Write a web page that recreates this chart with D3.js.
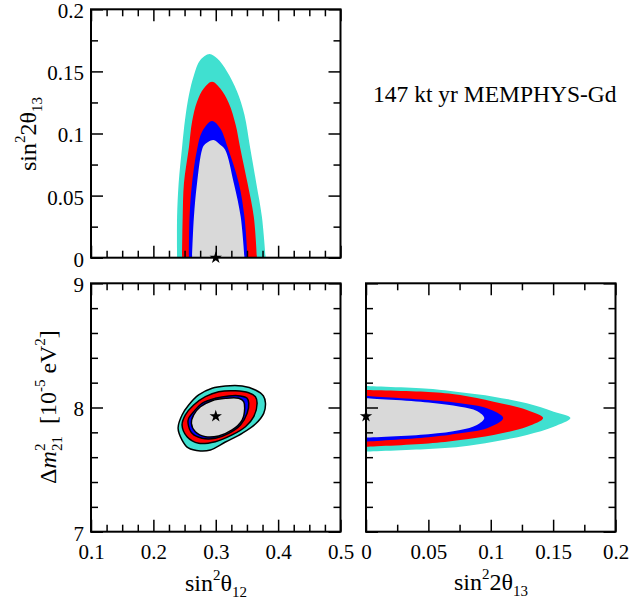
<!DOCTYPE html>
<html>
<head>
<meta charset="utf-8">
<script src="https://cdn.jsdelivr.net/npm/d3@7"></script>
<style>
body { margin: 0; background: #fff; }
text { font-family: "Liberation Serif", "Times New Roman", serif; fill: #000; }
.tick line { stroke: #000; stroke-width: 1.5; }
.domain { display: none; }
</style>
</head>
<body>
<div id="chart"></div>
<script>
'use strict';

// tick labels
var s12Ticks = [0.1, 0.2, 0.3, 0.4, 0.5];
var s13Ticks = [0, 0.05, 0.1, 0.15, 0.2];
var dmTicks = [7, 8, 9];

var levelColors = ["#40e0d0", "#ff0000", "#0000ff", "#d9d9d9"];
var bestS12 = 0.3, bestS13 = 0, bestDm = 7.93;
var title = "147 kt yr MEMPHYS-Gd";

// sin^2 th12 vs sin^2 2th13 (closed along s13 = 0)
var tlTurq = [[0.238,0],[0.238,0.033],[0.2405,0.060],[0.246,0.089],[0.251,0.112],[0.257,0.131],[0.265,0.147],[0.275,0.159],[0.290,0.164],[0.302,0.1605],[0.318,0.150],[0.334,0.134],[0.346,0.115],[0.355,0.089],[0.365,0.060],[0.374,0.033],[0.380,0]];
var tlRed  = [[0.246,0],[0.247,0.033],[0.249,0.060],[0.257,0.089],[0.262,0.1095],[0.270,0.1256],[0.281,0.1364],[0.294,0.1417],[0.307,0.1364],[0.321,0.1243],[0.332,0.1068],[0.339,0.089],[0.351,0.060],[0.361,0.033],[0.366,0]];
var tlBlue = [[0.257,0],[0.258,0.033],[0.262,0.060],[0.270,0.087],[0.278,0.1014],[0.294,0.110],[0.307,0.1042],[0.319,0.089],[0.337,0.060],[0.346,0.033],[0.351,0]];
var tlGray = [[0.262,0],[0.265,0.033],[0.270,0.060],[0.278,0.087],[0.282,0.0910],[0.296,0.0948],[0.307,0.0910],[0.315,0.087],[0.329,0.060],[0.340,0.033],[0.346,0]];

// sin^2 th12 vs dm21 (closed curves)
var blTurq = [[0.2396,7.835],[0.246,7.738],[0.256,7.674],[0.2754,7.650],[0.2914,7.658],[0.3155,7.722],[0.3423,7.792],[0.3636,7.867],[0.3769,7.953],[0.3797,8.036],[0.3764,8.093],[0.3636,8.141],[0.3423,8.173],[0.3155,8.173],[0.2941,8.155],[0.2726,8.101],[0.2566,8.020],[0.246,7.940]];
var blRed  = [[0.246,7.859],[0.254,7.765],[0.2726,7.712],[0.2994,7.725],[0.3262,7.779],[0.3476,7.845],[0.3609,7.926],[0.3663,8.034],[0.3636,8.087],[0.3528,8.119],[0.3315,8.135],[0.3047,8.127],[0.2834,8.087],[0.2646,8.020],[0.2513,7.940]];
var blBlue = [[0.2556,7.873],[0.262,7.792],[0.278,7.752],[0.2994,7.752],[0.3208,7.792],[0.3396,7.859],[0.3503,7.953],[0.3529,8.034],[0.3503,8.074],[0.3396,8.093],[0.3208,8.093],[0.2994,8.074],[0.278,8.034],[0.2646,7.966],[0.2566,7.913]];
var blGray = [[0.2609,7.873],[0.2673,7.805],[0.2834,7.765],[0.3047,7.771],[0.3262,7.819],[0.3423,7.899],[0.3464,7.994],[0.3448,8.047],[0.3368,8.074],[0.3155,8.074],[0.2941,8.055],[0.2754,8.006],[0.2646,7.940]];

// sin^2 2th13 vs dm21 (closed along s13 = 0)
var brTurq = [[0,8.173],[0.05,8.150],[0.0755,8.122],[0.1023,8.087],[0.129,8.034],[0.1505,7.966],[0.1639,7.915],[0.1505,7.845],[0.129,7.779],[0.1023,7.725],[0.0755,7.684],[0.05,7.665],[0,7.644]];
var brRed  = [[0,8.141],[0.05,8.125],[0.0755,8.101],[0.1023,8.047],[0.129,7.980],[0.142,7.915],[0.129,7.845],[0.1023,7.779],[0.0755,7.738],[0.05,7.710],[0,7.684]];
var brBlue = [[0,8.093],[0.05,8.060],[0.0755,8.034],[0.097,7.994],[0.110,7.915],[0.097,7.833],[0.0755,7.792],[0.05,7.760],[0,7.725]];
var brGray = [[0,8.074],[0.05,8.040],[0.0755,8.006],[0.0889,7.972],[0.0948,7.915],[0.0889,7.859],[0.0755,7.819],[0.05,7.785],[0,7.758]];

var width = 630, height = 603;
var pw = 249.5, ph = 248.4;
var fontTick = 21, fontLab = 24, fontSmall = 15;

var svg = d3.select("#chart").append("svg")
    .attr("width", width)
    .attr("height", height);

var fmt = function(d){ return d === 0 ? "0" : d3.format("~g")(d); };

function minorsOf(ticks, n) {
    var out = [];
    for (var i = 0; i < ticks.length - 1; i++) {
        var step = (ticks[i+1] - ticks[i]) / n;
        for (var k = 1; k < n; k++) out.push(ticks[i] + k * step);
    }
    return out;
}

function panel(id, left, top, xScale, yScale, xTicks, yTicks, xMinN, yMinN, showX, showY) {
    var g = svg.append("g")
        .attr("class", "panel " + id)
        .attr("transform", "translate(" + left + "," + top + ")");

    g.append("clipPath").attr("id", "clip-" + id)
        .append("rect").attr("width", pw).attr("height", ph);

    var plot = g.append("g").attr("clip-path", "url(#clip-" + id + ")");

    // bottom / top ticks, all pointing inwards
    g.append("g").attr("transform", "translate(0," + ph + ")")
        .call(d3.axisBottom(xScale).tickValues(xTicks).tickSize(-12).tickPadding(12).tickFormat(showX ? fmt : ""))
        .attr("font-size", fontTick);
    g.append("g").attr("transform", "translate(0," + ph + ")")
        .call(d3.axisBottom(xScale).tickValues(minorsOf(xTicks, xMinN)).tickSize(-7).tickFormat(""));
    g.append("g")
        .call(d3.axisTop(xScale).tickValues(xTicks).tickSize(-12).tickFormat(""));
    g.append("g")
        .call(d3.axisTop(xScale).tickValues(minorsOf(xTicks, xMinN)).tickSize(-7).tickFormat(""));

    // left / right ticks
    g.append("g")
        .call(d3.axisLeft(yScale).tickValues(yTicks).tickSize(-12).tickPadding(7).tickFormat(showY ? fmt : ""))
        .attr("font-size", fontTick)
        .selectAll("text").attr("dy", "0.4em");
    g.append("g")
        .call(d3.axisLeft(yScale).tickValues(minorsOf(yTicks, yMinN)).tickSize(-7).tickFormat(""));
    g.append("g").attr("transform", "translate(" + pw + ",0)")
        .call(d3.axisRight(yScale).tickValues(yTicks).tickSize(-12).tickFormat(""));
    g.append("g").attr("transform", "translate(" + pw + ",0)")
        .call(d3.axisRight(yScale).tickValues(minorsOf(yTicks, yMinN)).tickSize(-7).tickFormat(""));

    g.append("rect")
        .attr("width", pw).attr("height", ph)
        .attr("fill", "none").attr("stroke", "#000").attr("stroke-width", 2);

    return { g: g, plot: plot };
}

function drawBands(plot, xScale, yScale, sets, closed) {
    var line = d3.line()
        .x(function(d){ return xScale(d[0]); })
        .y(function(d){ return yScale(d[1]); })
        .curve(closed ? d3.curveCatmullRomClosed : d3.curveCatmullRom);
    sets.forEach(function(pts, i) {
        var p = plot.append("path")
            .attr("d", closed ? line(pts) : line(pts) + "Z")
            .attr("fill", levelColors[i]);
        if (closed) p.attr("stroke", "#000").attr("stroke-width", 1.5);
        else p.attr("stroke", "none");
    });
}

function star(g, x, y) {
    g.append("path")
        .attr("d", d3.symbol().type(d3.symbolStar).size(48)())
        .attr("transform", "translate(" + x + "," + y + ")")
        .attr("fill", "#000");
}

// scales
var xS12 = d3.scaleLinear().domain([0.1, 0.5]).range([0, pw]);
var yS13 = d3.scaleLinear().domain([0, 0.2]).range([ph, 0]);
var yDm = d3.scaleLinear().domain([7, 9]).range([ph, 0]);
var xS13 = d3.scaleLinear().domain([0, 0.2]).range([0, pw]);

// top left
var tl = panel("tl", 91, 9.3, xS12, yS13, s12Ticks, s13Ticks, 4, 2, false, true);
drawBands(tl.plot, xS12, yS13, [tlTurq, tlRed, tlBlue, tlGray], false);
star(tl.g, xS12(bestS12), yS13(bestS13));

// bottom left
var bl = panel("bl", 91, 283.3, xS12, yDm, s12Ticks, dmTicks, 4, 5, true, true);
drawBands(bl.plot, xS12, yDm, [blTurq, blRed, blBlue, blGray], true);
star(bl.g, xS12(bestS12), yDm(bestDm));

// bottom right
var br = panel("br", 366, 283.3, xS13, yDm, s13Ticks, dmTicks, 2, 5, true, false);
drawBands(br.plot, xS13, yDm, [brTurq, brRed, brBlue, brGray], false);
star(br.g, xS13(bestS13), yDm(bestDm));

// axis titles
function sinLabel(t, twoTheta, sub) {
    t.append("tspan").text("sin");
    t.append("tspan").attr("font-size", fontSmall).attr("dy", -11).text("2");
    t.append("tspan").attr("dy", 11).text(twoTheta ? "2\u03b8" : "\u03b8");
    t.append("tspan").attr("font-size", fontSmall).attr("dy", 6).text(sub);
}

var t1 = svg.append("text")
    .attr("transform", "translate(36,134) rotate(-90)")
    .attr("text-anchor", "middle")
    .attr("font-size", fontLab);
sinLabel(t1, true, "13");

var t2 = svg.append("text")
    .attr("x", 216).attr("y", 591)
    .attr("text-anchor", "middle")
    .attr("font-size", fontLab);
sinLabel(t2, false, "12");

var t3 = svg.append("text")
    .attr("x", 491).attr("y", 590)
    .attr("text-anchor", "middle")
    .attr("font-size", fontLab);
sinLabel(t3, true, "13");

var t4 = svg.append("text")
    .attr("transform", "translate(56,407) rotate(-90)")
    .attr("text-anchor", "middle")
    .attr("font-size", fontLab);
t4.append("tspan").text("\u0394");
t4.append("tspan").attr("font-style", "italic").text("m");
t4.append("tspan").attr("font-size", fontSmall).attr("dy", -11).text("2");
t4.append("tspan").attr("font-size", fontSmall).attr("dx", -7.5).attr("dy", 17).text("21");
t4.append("tspan").attr("dy", -6).text("\u00a0\u00a0[10");
t4.append("tspan").attr("font-size", fontSmall).attr("dy", -11).text("-5");
t4.append("tspan").attr("dy", 11).text(" eV");
t4.append("tspan").attr("font-size", fontSmall).attr("dy", -11).text("2");
t4.append("tspan").attr("dy", 11).text("]");

svg.append("text")
    .attr("x", 373).attr("y", 101.5)
    .attr("font-size", 23.5)
    .text(title);
</script>
</body>
</html>
